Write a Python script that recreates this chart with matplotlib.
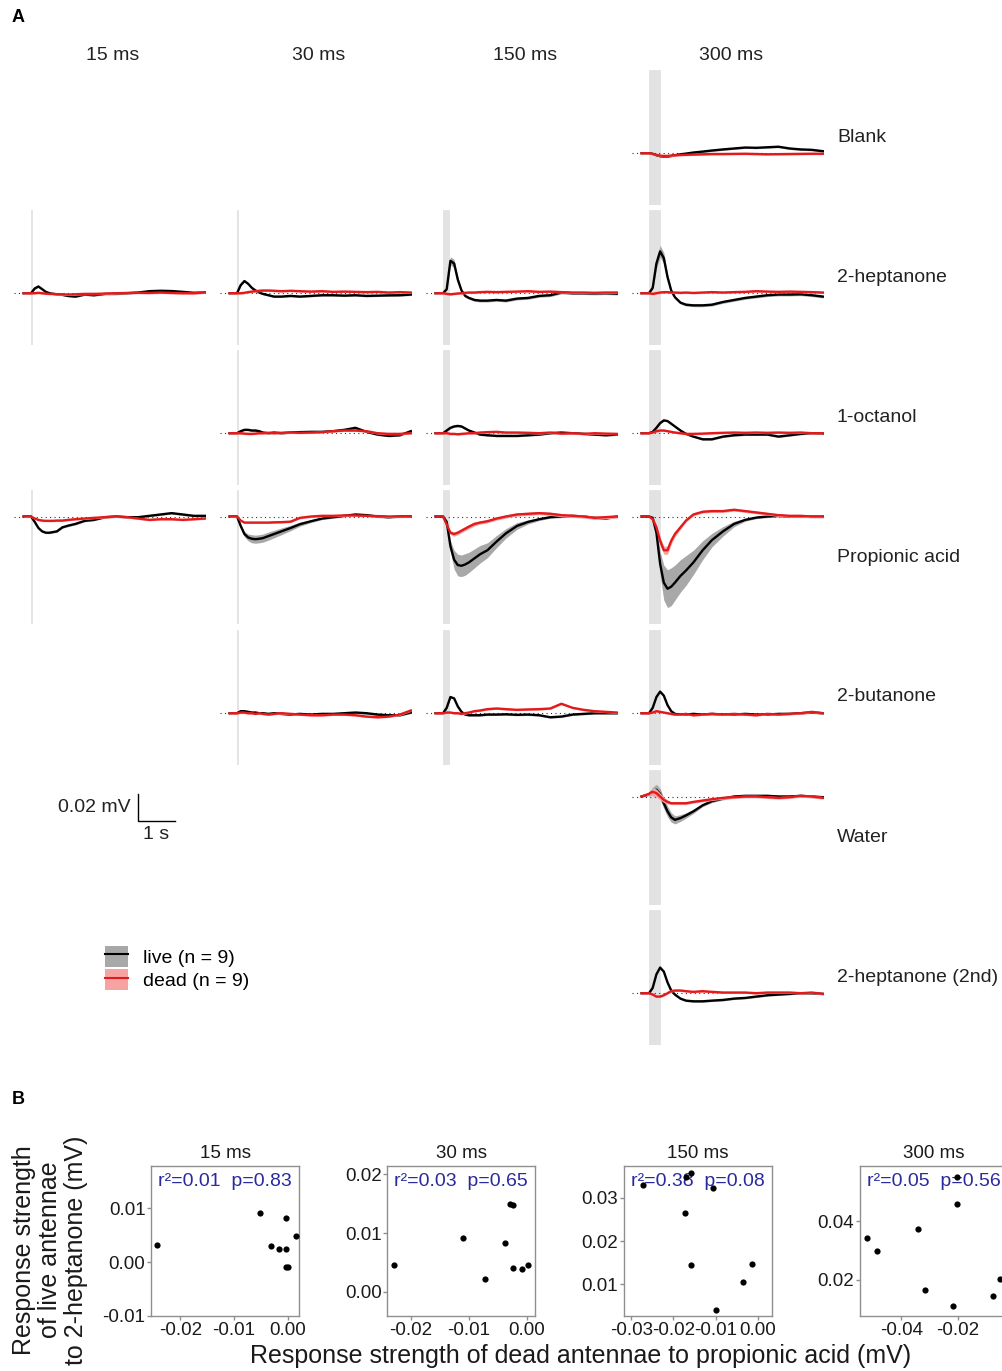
import numpy as np
import matplotlib
matplotlib.use('Agg')
import matplotlib.pyplot as plt
from matplotlib.patches import Patch
from matplotlib.lines import Line2D

plt.rcParams['font.family'] = ['Liberation Sans', 'DejaVu Sans']
plt.rcParams['axes.unicode_minus'] = False

# ---------------- panel A data (values in uV) ----------------
pulses = ['15 ms', '30 ms', '150 ms', '300 ms']
pulse_dur = [0.015, 0.030, 0.150, 0.300]   # s
odors = ['Blank', '2-heptanone', '1-octanol', 'Propionic acid',
         '2-butanone', 'Water', '2-heptanone (2nd)']

t_s = [-0.2, 0.0, 0.1, 0.2, 0.3, 0.4, 0.5, 0.6, 0.7, 0.85, 1.0, 1.2,
       1.45, 1.7, 2.0, 2.3, 2.6, 2.9, 3.2, 3.5, 3.8, 4.1, 4.4, 4.7]

blank_live = {
    '300 ms': [0, 0, -0.5, -1.5, -2.2, -2.5, -2.5, -2, -1.5, -0.8, -0.3, 0.5,
               1.2, 2.0, 2.8, 3.5, 4.2, 4.0, 4.4, 4.8, 3.5, 2.8, 2.5, 1.5]}
blank_dead = {
    '300 ms': [0, 0, -0.5, -1.2, -1.8, -2.0, -2.0, -1.8, -1.5, -1.3, -1.2, -1.0,
               -0.8, -0.6, -0.6, -0.5, -0.4, -0.6, -0.8, -0.7, -0.6, -0.5, -0.4, -0.4]}

heptanone_live = {
    '15 ms': [0, 0, 3.5, 5.0, 3.0, 1.0, 0.0, -0.5, -0.8, -1.2, -2.0, -2.5,
              -1.0, -1.5, -0.5, -0.5, 0, 0.5, 1.5, 1.8, 1.6, 1.0, 0.3, 0.5],
    '30 ms': [0, 0, 6, 9, 7, 4, 2, 0.5, -0.5, -1.5, -2.5, -2.5,
              -2.0, -2.5, -2.0, -1.5, -1.5, -1.8, -1.5, -2.0, -1.8, -1.6, -1.5, -1.0],
    '150 ms': [0, 0, 3, 24, 22, 10, 2, -2, -3.5, -5, -5.5, -5.5,
               -5, -5.5, -4, -3.5, -2.0, -1.5, 0.5, 0, 0, -0.2, 0, -0.3],
    '300 ms': [0, 0, 4, 22, 31, 26, 12, 2, -3, -7, -8.5, -9,
               -9, -8.5, -6.5, -5, -3.5, -2.5, -1.5, -1, -1, -0.8, -1.5, -2.5]}
heptanone_dead = {
    '15 ms': [0, 0, 0, 0.3, 0, -0.3, -0.5, -0.5, -0.8, -0.8, -1.0, -0.8,
              -0.5, -0.5, -0.3, 0, 0.2, 0.3, 0.2, 0.5, 0.2, 0, 0, 0.5],
    '30 ms': [0, 0, 0, 0.3, 0.8, 1.2, 1.5, 1.8, 2.0, 2.0, 1.8, 1.5,
              1.8, 1.5, 1.2, 1.5, 1.0, 1.2, 1.0, 0.8, 1.0, 0.5, 0.8, 0.5],
    '150 ms': [0, 0, -0.5, -0.8, -0.5, -0.2, 0, 0.3, 0.5, 0.5, 0.8, 1.0,
               0.8, 1.0, 1.2, 1.5, 1.0, 1.2, 0.8, 0.5, 0.5, 0.3, 0.5, 0.5],
    '300 ms': [0, 0, -0.5, 0, 0.5, 0.8, 0.8, 0.5, 0.5, 0.3, 0.5, 0.2,
               0.5, 0.8, 0.5, 0.8, 1.0, 1.5, 1.2, 1.0, 1.2, 1.0, 0.8, 0.5]}

octanol_live = {
    '30 ms': [0, 0, 1.5, 2.5, 2.5, 2.0, 2.0, 1.5, 0.5, 0, 0.5, 0,
              0.5, 0.8, 1.0, 1.0, 1.5, 2.5, 4.0, 1.0, -1.0, -2.0, -1.5, 1.5],
    '150 ms': [0, 0, 2, 4, 5, 5.4, 5, 3.5, 2, 0.5, -1, -1.5,
               -2, -2, -2, -1.5, -1, 0, 0.5, 0, -0.5, -1, -1.5, -1],
    '300 ms': [0, 0, 1, 4, 7.5, 9.5, 9, 7, 5, 2, -0.5, -2.5,
               -4.5, -4.5, -2.5, -1.5, -1.0, -1.0, -1.0, -2.5, -1.5, -0.5, 0, -0.3]}
octanol_dead = {
    '30 ms': [0, 0, 0, -0.3, -0.5, -0.5, -0.3, 0, 0, 0.3, 0, 0.3,
              0.5, 0.3, 0.5, 0.8, 1.5, 2.0, 2.0, 1.5, 0, -0.5, -0.5, 0],
    '150 ms': [0, 0, 0, -0.5, -0.5, -0.8, -0.5, -0.3, 0, 0, 0.5, 0.8,
               1.0, 0.5, 0.5, 0.3, 0, 0.5, -0.3, 0, -0.5, 0, -0.3, -0.5],
    '300 ms': [0, 0, 0.5, 1.5, 2.0, 2.0, 1.5, 1.0, 0.5, 0, -0.5, -0.5,
               -0.3, 0, 0.3, 0.5, 0.3, 0.5, 0.3, 0.5, 0.3, 0.5, 0, 0]}

propionic_live = {
    '15 ms': [0, 0, -4, -8.5, -11, -12, -12, -11.5, -11, -8, -6.8, -5.5,
              -3.2, -2.5, -0.5, 0, -0.5, -0.5, 0.5, 1.5, 2.5, 1.5, 0.5, 0.5],
    '30 ms': [0, 0, -7, -13, -15.5, -16.5, -16.8, -16.5, -16, -14.5, -13, -11,
              -8.5, -5.7, -3.5, -1.5, -0.5, 0.5, 1.5, 1.0, 0, -0.5, 0, 0],
    '150 ms': [0, 0, -4, -22, -32, -36, -36.5, -35.5, -34, -31, -28, -25,
               -18.5, -12.5, -7, -4, -2, -0.5, 0, 0.5, 0, -1, -1.5, 0],
    '300 ms': [0, 0, -1, -12, -35, -49, -53.5, -52, -49, -44, -40, -34,
               -25, -17.5, -11, -5.5, -2.5, -0.8, 0, 0.5, 0, 0, 0, 0]}
propionic_dead = {
    '15 ms': [0, 0, -1.5, -2.5, -3, -3.2, -3.2, -3.2, -3, -3, -2.5, -2,
              -1.5, -1, -0.5, 0, -0.5, -1.5, -2.5, -2.0, -2.0, -2.5, -2.0, -1.5],
    '30 ms': [0, 0, -3, -4.5, -4.5, -4.5, -4.5, -4.5, -4.5, -4.5, -4.3, -4.2,
              -3.8, -1.0, 0, 0.5, 0.5, 0.8, 0.8, 0.5, 0.3, 0, 0, 0],
    '150 ms': [0, 0, -6, -12, -13, -12, -10.5, -9, -7.5, -5.5, -4.5, -3.5,
               -1.5, 0, 1.5, 2, 2.5, 2.0, 1.0, 0.5, 0, -1.0, -0.5, 0],
    '300 ms': [0, 0, -2, -8, -18, -25, -25, -18, -13, -8, -3, 1.5,
               3.5, 4, 4, 5, 4, 3, 2, 1, 0.5, 0.5, 0, 0]}

butanone_live = {
    '30 ms': [0, 0, 1.5, 1.5, 1.0, 0.5, 0.5, 0, 0, -0.5, 0, -0.5,
              -1.0, -0.5, -1.0, -0.5, -0.5, 0, 0.5, 0, -1.0, -1.5, -1.5, 0.5],
    '150 ms': [0, 0, 4, 12, 11, 5, 1, -1, -1.5, -1.5, -1.5, -1.0,
               -1.0, -0.8, -1.2, -1.0, -1.5, -3, -2.5, -1.0, -0.5, 0, 0, 0],
    '300 ms': [0, 0, 4, 12, 16, 13, 6, 1.5, -0.5, -1.0, -1.0, -0.5,
               -1.0, -0.5, -1.0, -1.0, -0.5, -1.0, -1.0, -0.5, -0.5, 0, 0.5, 0]}
butanone_dead = {
    '30 ms': [0, 0, 0.5, 0.5, 0, 0, -0.5, 0, -0.5, -1.0, -0.5, 0,
              -0.5, -1.0, -1.5, -1.5, -1.0, -1.0, -1.5, -2.5, -3.0, -2.5, -1.0, 2.0],
    '150 ms': [0, 0, 0.5, 0.5, 0, 0, -0.5, 0, 0.5, 1.5, 2.0, 3.0,
               3.5, 3.0, 2.5, 2.8, 3.0, 3.5, 7.0, 4.0, 2.5, 1.5, 1.0, 0.5],
    '300 ms': [0, 0, 0.5, 1.5, 1.0, 0.5, 0, -0.5, -1.0, -1.0, -0.5, -1.5,
               -1.0, -0.5, -1.0, -0.5, -1.0, -1.5, -0.5, -1.0, -0.5, 0, 1.0, 0]}

water_live = {
    '300 ms': [0, 1.5, 4, 5, 2, -5, -11, -15.5, -17.3, -16, -14, -11,
               -6.5, -3.5, -1.5, 0, 0.5, 0.5, 0.5, 0, 0, 0.5, 0, -0.5]}
water_dead = {
    '300 ms': [0, 2, 3.5, 2.5, 0, -2.5, -4, -5, -5, -5, -5, -4,
               -3, -2, -1, -0.5, 0, 0, -0.5, -1, -0.5, 0.5, 0, -1]}

heptanone2_live = {
    '300 ms': [0, 0, 4, 14, 19, 16, 8, 2, -1, -4, -5.5, -6,
               -6, -5.5, -5, -4, -3.5, -2.5, -1.5, -1, -0.5, 0, 0, -0.5]}
heptanone2_dead = {
    '300 ms': [0, 0, -1, -2.5, -2.5, -1.5, 0, 1.5, 2.0, 2.0, 1.5, 1.0,
               1.5, 1.0, 0.5, 0.5, 0.5, 0, 0.5, 0.5, 0.5, 0, 0.5, -0.5]}

live_traces = [blank_live, heptanone_live, octanol_live, propionic_live,
               butanone_live, water_live, heptanone2_live]
dead_traces = [blank_dead, heptanone_dead, octanol_dead, propionic_dead,
               butanone_dead, water_dead, heptanone2_dead]

# SEM ribbons (uV) where they are wider than the line
live_sem = {
    ('2-heptanone', '150 ms'): [0, 0, 1, 3, 3, 2, 1, 1, 1, 1, 1, 1, 1, 1, 1, 1, 1, 1, 1, 1, 1, 1, 1, 1],
    ('2-heptanone', '300 ms'): [0, 0, 1, 3.5, 4.5, 4, 2, 1, 1, 1, 1, 1, 1, 1, 1, 1, 1, 1, 1, 1, 1, 1, 1, 1],
    ('Propionic acid', '30 ms'): [0, 0, 1, 2, 2.5, 3, 3, 3, 3, 3, 2.8, 2.5, 2, 1.5, 1, 0.8, 0.8, 0.8, 0.8, 0.8, 0.8, 0.8, 0.8, 0.8],
    ('Propionic acid', '150 ms'): [0, 0, 1, 4, 7, 8, 8, 8, 7.5, 7, 6.5, 5.5, 4.5, 3.5, 2.5, 1.5, 1, 0.8, 0.8, 0.8, 0.8, 0.8, 0.8, 0.8],
    ('Propionic acid', '300 ms'): [0, 0, 0.5, 3, 9, 13, 14, 14, 13, 12, 11, 9, 7, 5, 3.5, 2, 1, 0.8, 0.8, 0.8, 0.8, 0.8, 0.8, 0.8],
    ('Water', '300 ms'): [0, 1, 3, 4, 4, 4, 4, 3.5, 3, 2.5, 2, 1.5, 1, 1, 1, 1, 1, 1, 1, 1, 1, 1, 1, 1],
}
dead_sem = {
    ('Propionic acid', '150 ms'): [0, 0, 1, 1.5, 1.5, 1.5, 1.5, 1.5, 1.5, 1.5, 1.2, 1.2, 1.2, 1.2, 1.2, 1.2, 1.2, 1.2, 1.2, 1.2, 1.2, 1.2, 1.2, 1.2],
    ('Propionic acid', '300 ms'): [0, 0, 1, 2, 3, 3, 3, 2.5, 2, 1.5, 1, 1, 1, 1, 1, 1, 1, 1, 1, 1, 1, 1, 1, 1],
    ('Water', '300 ms'): [0, 1, 3, 3, 2.5, 2, 1.5, 1, 1, 1, 1, 1, 1, 1, 1, 1, 1, 1, 1, 1, 1, 1, 1, 1],
}

# ---------------- panel B data (mV) ----------------
b_dead_15 = [-0.0243, -0.0052, -0.0003, 0.0015, -0.0031, -0.0016, -0.0003, -0.0003, 0.0001]
b_live_15 = [0.0032, 0.0091, 0.0081, 0.0049, 0.0030, 0.0024, 0.0024, -0.0010, -0.0009]
b_dead_30 = [-0.0229, -0.0109, -0.0071, -0.0037, -0.0028, -0.0023, -0.0024, -0.0008, 0.0003]
b_live_30 = [0.0046, 0.0091, 0.0022, 0.0083, 0.0150, 0.0148, 0.0041, 0.0039, 0.0045]
b_dead_150 = [-0.0271, -0.0173, -0.0171, -0.0158, -0.0105, -0.0159, -0.0098, -0.0034, -0.0013]
b_live_150 = [0.0331, 0.0266, 0.0349, 0.0358, 0.0324, 0.0145, 0.0039, 0.0105, 0.0147]
b_dead_300 = [-0.0522, -0.0484, -0.0342, -0.0315, -0.0217, -0.0204, -0.0202, -0.0074, -0.0051]
b_live_300 = [0.0342, 0.0300, 0.0375, 0.0164, 0.0110, 0.0459, 0.0553, 0.0145, 0.0202]
b_stats = ['r\u00b2=0.01  p=0.83', 'r\u00b2=0.03  p=0.65', 'r\u00b2=0.38  p=0.08', 'r\u00b2=0.05  p=0.56']

# ---------------- layout ----------------
W, H = 1003, 1371
fig = plt.figure(figsize=(W / 100, H / 100), dpi=100)


def px_axes(left, top, width, height):
    return fig.add_axes([left / W, 1 - (top + height) / H, width / W, height / H])


live_col, dead_col = 'black', '#e31a1c'
live_fill, dead_fill = '#a8a8a8', '#f6a3a3'
t = np.array(t_s)
row_ylim = {'pos': (-38, 62), 'neg': (-80, 20)}
neg_rows = ['Propionic acid', 'Water']

for i, odor in enumerate(odors):
    yc = 137 + 140 * i
    ylim = row_ylim['neg'] if odor in neg_rows else row_ylim['pos']
    for j, pulse in enumerate(pulses):
        if pulse not in live_traces[i]:
            continue
        ax = px_axes(14 + 206 * j, yc - 67.5, 192, 135)
        ax.set_xlim(-0.46, 4.73)
        ax.set_ylim(*ylim)
        ax.axis('off')
        ax.axvspan(0, pulse_dur[j], color='#e2e2e2', lw=0.6, zorder=0)
        ax.axhline(0, color='#333333', ls=(0, (1, 3)), lw=0.8, zorder=1)
        lv = np.array(live_traces[i][pulse])
        dv = np.array(dead_traces[i][pulse])
        ls_ = np.array(live_sem.get((odor, pulse), [0.7] * len(t_s)))
        ds_ = np.array(dead_sem.get((odor, pulse), [0.7] * len(t_s)))
        ax.fill_between(t, lv - ls_, lv + ls_, color=live_fill, lw=0, zorder=2)
        ax.plot(t, lv, color=live_col, lw=1.7, zorder=3)
        ax.fill_between(t, dv - ds_, dv + ds_, color=dead_fill, lw=0, zorder=4)
        ax.plot(t, dv, color=dead_col, lw=1.7, zorder=5)
    fig.text(837 / W, 1 - yc / H, odor, fontsize=14, ha='left', va='center', color='#222222')

for j, pulse in enumerate(pulses):
    fig.text((113 + 206 * j) / W, 1 - 55 / H, pulse, fontsize=14, ha='center', va='center',
             color='#222222')

# scale bar (same scale as the trace panels)
sb = px_axes(14, 837 - 67.5, 192, 135)
sb.set_xlim(-0.46, 4.73)
sb.set_ylim(*row_ylim['neg'])
sb.axis('off')
sb.plot([2.89, 2.89, 3.89], [1.5, -18.5, -18.5], color='black', lw=1)
sb.text(2.70, -8.5, '0.02 mV', fontsize=14, ha='right', va='center', color='#222222')
sb.text(3.39, -28, '1 s', fontsize=14, ha='center', va='center', color='#222222')

handles = [(Patch(facecolor=live_fill, edgecolor='none'), Line2D([], [], color=live_col, lw=1.5)),
           (Patch(facecolor=dead_fill, edgecolor='none'), Line2D([], [], color=dead_col, lw=1.5))]
fig.legend(handles, ['live (n = 9)', 'dead (n = 9)'], loc='upper left',
           bbox_to_anchor=(105 / W, 1 - 946 / H), frameon=False, fontsize=14,
           handlelength=1.2, handleheight=1.25, handletextpad=0.75, labelspacing=0.12,
           borderpad=0, borderaxespad=0)

fig.text(12 / W, 1 - 18 / H, 'A', fontsize=13, fontweight='bold', va='center')
fig.text(12 / W, 1 - 1100 / H, 'B', fontsize=13, fontweight='bold', va='center')

# ---------------- panel B ----------------
b_x = [b_dead_15, b_dead_30, b_dead_150, b_dead_300]
b_y = [b_live_15, b_live_30, b_live_150, b_live_300]
b_xlim = [(-0.0255, 0.0021), (-0.0240, 0.0015), (-0.0318, 0.0033), (-0.0546, -0.0023)]
b_ylim = [(-0.0100, 0.0178), (-0.0041, 0.0214), (0.0026, 0.0374), (0.0076, 0.0590)]
b_xticks = [[-0.02, -0.01, 0.00], [-0.02, -0.01, 0.00], [-0.03, -0.02, -0.01, 0.00], [-0.04, -0.02]]
b_yticks = [[-0.01, 0.00, 0.01], [0.00, 0.01, 0.02], [0.01, 0.02, 0.03], [0.02, 0.04]]
frame = '#8f8f8f'

for k, pulse in enumerate(pulses):
    ax = px_axes(151 + 236.3 * k, 1166, 148, 150)
    ax.scatter(b_x[k], b_y[k], s=20, color='black', zorder=3, lw=0)
    ax.set_xticks(b_xticks[k])
    ax.set_yticks(b_yticks[k])
    ax.set_xticklabels(['%.2f' % v for v in b_xticks[k]])
    ax.set_yticklabels(['%.2f' % v for v in b_yticks[k]])
    ax.set_xlim(*b_xlim[k])
    ax.set_ylim(*b_ylim[k])
    for s in ax.spines.values():
        s.set_color(frame)
        s.set_linewidth(1)
    ax.tick_params(colors=frame, labelcolor='#1a1a1a', labelsize=13.5, length=3, width=1, pad=1)
    ax.set_title(pulse, fontsize=13.5, pad=6, color='#1a1a1a')
    ax.text(0.5, 0.9, b_stats[k], transform=ax.transAxes, ha='center', va='center',
            fontsize=14, color='#2a2aa0', zorder=1)

fig.text(50 / W, 1 - 1250 / H, 'Response strength\nof live antennae\nto 2-heptanone (mV)',
         rotation=90, fontsize=18, ha='center', va='center', linespacing=1.1, color='#1a1a1a')
fig.text(581 / W, 1 - 1356 / H, 'Response strength of dead antennae to propionic acid (mV)',
         fontsize=18, ha='center', va='center', color='#1a1a1a')

fig.savefig('out.png', dpi=100)
